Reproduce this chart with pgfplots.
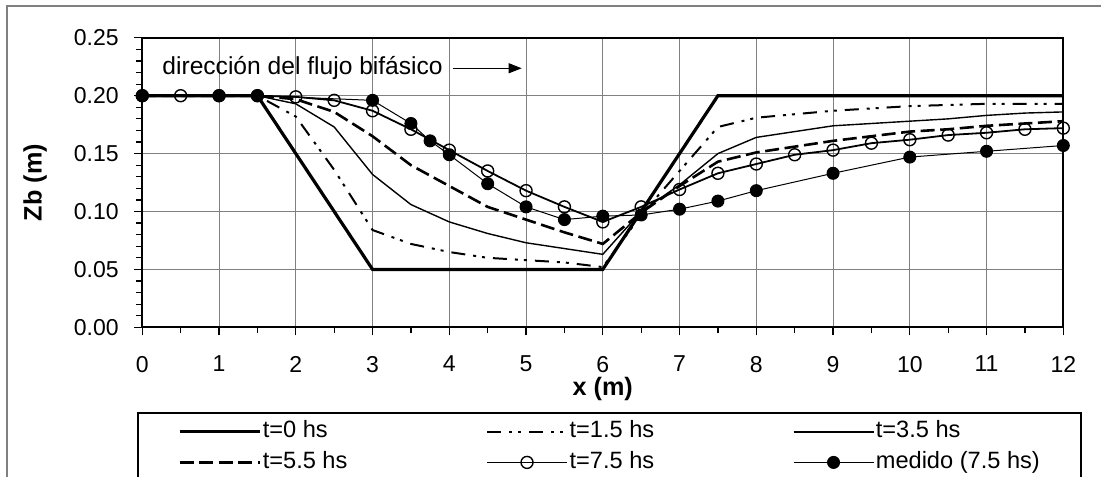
\documentclass[border=0pt]{standalone}
\usepackage{fontspec}
\setmainfont{Liberation Sans}
\usepackage{pgfplots}
\pgfplotsset{compat=1.18}
\usetikzlibrary{arrows.meta}
\begin{document}
\begin{tikzpicture}
\begin{axis}[
  name=ax,
  scale only axis,
  width=460.5bp, height=144.75bp,
  xmin=0, xmax=12, ymin=0, ymax=0.25,
  xtick={0,1,2,3,4,5,6,7,8,9,10,11,12},
  ytick={0,0.05,0.10,0.15,0.20,0.25},
  minor x tick num=1, minor y tick num=4,
  tick align=outside, tick pos=left,
  major tick length=4bp, minor tick length=3bp,
  every tick/.style={black, line width=0.6bp},
  axis line style={black, line width=1bp},
  grid=major,
  major grid style={gray, line width=0.5bp},
  clip=false,
  /pgf/number format/assume math mode=true,
  yticklabel style={/pgf/number format/.cd, fixed, fixed zerofill, precision=2, /tikz/.cd,
     font=\fontsize{11.5bp}{13bp}\selectfont, inner sep=0pt, anchor=east, xshift=-7.6bp},
  xticklabel style={font=\fontsize{11.5bp}{13bp}\selectfont, inner sep=0pt, anchor=north, yshift=-10.2bp},
  xlabel={x (m)},
  xlabel style={font=\bfseries\fontsize{12.6bp}{14bp}\selectfont, at={(axis description cs:0.5,-0.2131)}, anchor=center},
  ylabel={Zb (m)},
  ylabel style={font=\bfseries\fontsize{12.6bp}{14bp}\selectfont, at={(axis description cs:-0.1165,0.5)}, anchor=center, rotate=0},
  legend columns=3,
  legend cell align=left,
  legend style={
    at={(axis description cs:-0.00575,-0.2926)}, anchor=north west,
    draw=black, line width=1bp, fill=white,
    inner xsep=20bp, inner ysep=4bp,
    font=\fontsize{11.8bp}{13bp}\selectfont,
    nodes={inner xsep=0.8bp, inner ysep=0pt, text height=8.3bp, text depth=2.5bp},
    /tikz/row sep=4.5bp,
    /tikz/every even column/.append style={column sep=68.5bp},
  },
  legend image code/.code={\draw[mark repeat=2,mark phase=2,#1] plot coordinates {(0bp,0bp) (20bp,0bp) (40bp,0bp)};},
]
% t=0 hs
\addplot[black, line width=1.6bp] coordinates {
 (0,0.2) (1.5,0.2) (3,0.05) (6,0.05) (7.5,0.2) (12,0.2)};
\addlegendentry{t=0 hs}
% t=1.5 hs
\addplot[black, line width=1bp, dash pattern=on 7bp off 4bp on 1.5bp off 3bp on 1.5bp off 4bp] coordinates {
 (0,0.2) (0.5,0.2) (1,0.2) (1.5,0.2) (2,0.182) (2.5,0.136) (3,0.084) (3.5,0.072) (4,0.065)
 (4.5,0.060) (5,0.058) (5.5,0.056) (6,0.052) (6.5,0.097) (7,0.135) (7.5,0.173) (8,0.181)
 (8.5,0.184) (9,0.187) (9.5,0.189) (10,0.191) (10.5,0.192) (11,0.193) (11.5,0.193) (12,0.193)};
\addlegendentry{t=1.5 hs}
% t=3.5 hs
\addplot[black, line width=0.7bp] coordinates {
 (0,0.2) (0.5,0.2) (1,0.2) (1.5,0.2) (2,0.193) (2.5,0.173) (3,0.132) (3.5,0.106) (4,0.091)
 (4.5,0.081) (5,0.073) (5.5,0.068) (6,0.063) (6.5,0.100) (7,0.123) (7.5,0.150) (8,0.164)
 (8.5,0.169) (9,0.174) (9.5,0.176) (10,0.178) (10.5,0.180) (11,0.183) (11.5,0.185) (12,0.186)};
\addlegendentry{t=3.5 hs}
% t=5.5 hs
\addplot[black, line width=1.3bp, dash pattern=on 7bp off 2.8bp] coordinates {
 (0,0.2) (0.5,0.2) (1,0.2) (1.5,0.2) (2,0.197) (2.5,0.186) (3,0.165) (3.5,0.140) (4,0.122)
 (4.5,0.104) (5,0.093) (5.5,0.082) (6,0.072) (6.5,0.099) (7,0.122) (7.5,0.143) (8,0.151)
 (8.5,0.156) (9,0.161) (9.5,0.165) (10,0.169) (10.5,0.171) (11,0.174) (11.5,0.176) (12,0.178)};
\addlegendentry{t=5.5 hs}
% t=7.5 hs
\addplot[black, line width=0.9bp, mark=o, mark size=3bp, mark options={solid, fill=white, line width=0.7bp}] coordinates {
 (0,0.2) (0.5,0.2) (1,0.2) (1.5,0.2) (2,0.199) (2.5,0.196) (3,0.187) (3.5,0.171) (4,0.153)
 (4.5,0.135) (5,0.118) (5.5,0.104) (6,0.091) (6.5,0.104) (7,0.119) (7.5,0.133) (8,0.141)
 (8.5,0.149) (9,0.153) (9.5,0.159) (10,0.162) (10.5,0.166) (11,0.168) (11.5,0.171) (12,0.172)};
\addlegendentry{t=7.5 hs}
% medido
\addplot[black, line width=0.5bp, mark=*, mark size=3bp, mark options={solid, fill=black}] coordinates {
 (0,0.2) (1,0.2) (1.5,0.2) (3,0.196) (3.5,0.176) (3.75,0.161) (4,0.149) (4.5,0.124) (5,0.104)
 (5.5,0.093) (6,0.096) (6.5,0.097) (7,0.102) (7.5,0.109) (8,0.118) (9,0.133) (10,0.147)
 (11,0.152) (12,0.157)};
\addlegendentry{medido (7.5 hs)}
\node[anchor=base west, inner sep=0pt, font=\fontsize{12.3bp}{14bp}\selectfont] at (axis cs:0.257,0.2179) {dirección del flujo bifásico};
\draw[black, line width=0.5bp, -{Triangle[length=6.5bp,width=5bp]}] (axis cs:4.044,0.2237) -- (axis cs:4.943,0.2237);
\end{axis}
\pgfresetboundingbox
\path[use as bounding box] ([shift={(-71.15bp,-74.85bp)}]ax.south west) rectangle ([shift={(479.35bp,163.65bp)}]ax.south west);
\draw[gray, line width=1bp] ([shift={(-67.65bp,-80bp)}]ax.south west) rectangle ([shift={(485bp,160.8bp)}]ax.south west);
\end{tikzpicture}
\end{document}
